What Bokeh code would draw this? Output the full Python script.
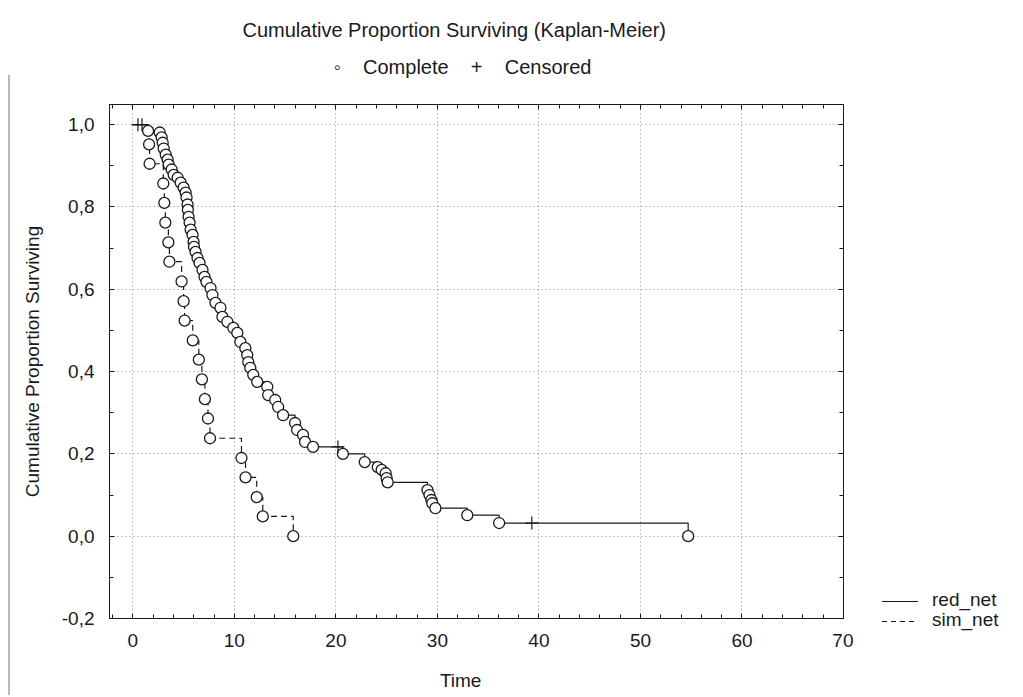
from bokeh.plotting import figure
from bokeh.layouts import row
from bokeh.models import (LinearAxis, Title, CustomJSTickFormatter, Div,
                          SingleIntervalTicker, Range1d)
from bokeh.embed import file_html
from bokeh.resources import INLINE

# ---- data ----
red_event_time = [1.5, 2.65, 2.84, 2.94, 3.04, 3.24, 3.43, 3.53, 3.82, 4.02, 4.41, 4.71, 5.00,
                  5.20, 5.29, 5.39, 5.42, 5.49, 5.59, 5.69, 5.88, 5.98, 6.02, 6.18, 6.37, 6.57,
                  6.86, 7.06, 7.25, 7.65, 7.84, 8.14, 8.63, 8.82, 9.31, 9.90, 10.29, 10.59,
                  11.08, 11.27, 11.37, 11.57, 11.86, 12.25, 13.24, 13.33, 14.02, 14.31, 14.80,
                  15.98, 16.18, 16.76, 16.96, 17.75, 20.69, 22.84, 24.12, 24.51, 24.90, 25.00,
                  25.10, 29.02, 29.22, 29.41, 29.50, 29.80, 32.94, 36.08, 54.7]
red_event_surv = [0.985, 0.981, 0.969, 0.956, 0.942, 0.927, 0.915, 0.903, 0.891, 0.878, 0.871,
                  0.859, 0.847, 0.835, 0.823, 0.806, 0.793, 0.776, 0.762, 0.745, 0.732, 0.715,
                  0.703, 0.691, 0.676, 0.664, 0.647, 0.630, 0.618, 0.603, 0.586, 0.567, 0.555,
                  0.533, 0.521, 0.506, 0.494, 0.472, 0.457, 0.440, 0.423, 0.409, 0.392, 0.375,
                  0.363, 0.343, 0.331, 0.314, 0.294, 0.275, 0.258, 0.246, 0.229, 0.217, 0.200,
                  0.180, 0.168, 0.161, 0.153, 0.141, 0.131, 0.112, 0.100, 0.088, 0.080, 0.068,
                  0.051, 0.032, 0.0]
red_censor_time = [0.5, 20.2, 39.3]
red_censor_surv = [1.0, 0.217, 0.032]

sim_event_time = [1.6, 1.65, 3.0, 3.1, 3.2, 3.5, 3.6, 4.8, 5.0, 5.1, 5.9, 6.5, 6.8, 7.1,
                  7.4, 7.6, 10.7, 11.1, 12.2, 12.8, 15.8]
sim_event_surv = [0.952, 0.905, 0.857, 0.810, 0.762, 0.714, 0.667, 0.619, 0.571, 0.524, 0.476,
                  0.429, 0.381, 0.333, 0.286, 0.238, 0.190, 0.143, 0.095, 0.048, 0.0]
sim_censor_time = [0.9]
sim_censor_surv = [1.0]

series_names = ["red_net", "sim_net"]

x_range = (-2.3, 70)
y_range = (-0.2, 1.049)

FONT = "Liberation Sans"
FS = "19px"
TFS = "20px"
INK = "#1a1a1a"
NB = "\u00a0"

H = 695
LEFT_W = 11
MAIN_W = 842
LEG_W = 167

# ---- thin grey border strip on the left (HTML) ----
left = Div(width=LEFT_W, height=H, margin=0,
           text=(f'<div style="position:relative;width:{LEFT_W}px;height:{H}px;">'
                 f'<div style="position:absolute;left:8px;top:75px;width:2px;height:{H - 75}px;'
                 f'background:#b8b8b8;"></div></div>'))

# ---- main plot ----
p = figure(width=MAIN_W, height=H, x_range=Range1d(*x_range), y_range=Range1d(*y_range),
           output_backend="svg", toolbar_location=None,
           min_border_left=98, min_border_right=10, min_border_top=104,
           min_border_bottom=H - 618,
           x_axis_label="Time" + NB * 6, y_axis_label="Cumulative Proportion Surviving")

p.outline_line_color = INK
p.outline_line_width = 1
p.background_fill_color = "white"
p.border_fill_color = "white"

xt = SingleIntervalTicker(interval=10, num_minor_ticks=5)
yt = SingleIntervalTicker(interval=0.2, num_minor_ticks=2)
yfmt = CustomJSTickFormatter(code="var t = Math.abs(tick) < 1e-9 ? 0 : tick; return t.toFixed(1).replace('.', ',');")

for ax in p.xaxis:
    ax.ticker = xt
for ax in p.yaxis:
    ax.ticker = yt
    ax.formatter = yfmt

def style_axis(ax):
    ax.axis_line_color = INK
    ax.major_tick_line_color = INK
    ax.minor_tick_line_color = INK
    ax.major_tick_in = 5
    ax.major_tick_out = 0
    ax.minor_tick_in = 4
    ax.minor_tick_out = 0
    ax.major_label_text_font = FONT
    ax.major_label_text_font_size = FS
    ax.major_label_text_color = INK
    ax.axis_label_text_font = FONT
    ax.axis_label_text_font_size = FS
    ax.axis_label_text_font_style = "normal"
    ax.axis_label_text_color = INK

for ax in list(p.xaxis) + list(p.yaxis):
    style_axis(ax)
p.xaxis.major_label_standoff = 15
p.xaxis.axis_label_standoff = 20
p.yaxis.major_label_standoff = 15
p.yaxis.axis_label_standoff = 16

blank = CustomJSTickFormatter(code="return '';")
top_ax = LinearAxis(ticker=xt, formatter=blank)
right_ax = LinearAxis(ticker=yt, formatter=blank)
for ax in (top_ax, right_ax):
    style_axis(ax)
    ax.major_label_standoff = 0
p.add_layout(top_ax, "above")
p.add_layout(right_ax, "right")

# invisible spacer between the frame and the sub-title
spacer_ax = LinearAxis(ticker=xt, formatter=blank, axis_line_color=None,
                       major_tick_line_color=None, minor_tick_line_color=None,
                       major_tick_in=0, major_tick_out=26, minor_tick_in=0, minor_tick_out=0,
                       major_label_standoff=0)
p.add_layout(spacer_ax, "above")

p.xgrid.grid_line_color = "#8a8a8a"
p.xgrid.grid_line_dash = "1 3"
p.ygrid.grid_line_color = "#8a8a8a"
p.ygrid.grid_line_dash = "1 3"

# titles (centred over the frame; trailing no-break spaces shift them slightly left)
sub_text = "\u25e6" + NB * 4 + "Complete" + NB * 4 + "+" + NB * 4 + "Censored" + NB * 5
sub = Title(text=sub_text, align="center", text_font=FONT,
            text_font_size=TFS, text_font_style="normal", text_color=INK, standoff=1)
p.add_layout(sub, "above")
p.title.text = "Cumulative Proportion Surviving (Kaplan-Meier)" + NB * 8
p.title.align = "center"
p.title.text_font = FONT
p.title.text_font_size = TFS
p.title.text_font_style = "normal"
p.title.text_color = INK
p.title.standoff = 26

# step curves
red_x = [0.0] + red_event_time
red_y = [1.0] + red_event_surv
sim_x = [0.0] + sim_event_time
sim_y = [1.0] + sim_event_surv

p.step(red_x, red_y, mode="after", line_color=INK, line_width=1.2)
p.step(sim_x, sim_y, mode="after", line_color=INK, line_width=1.2, line_dash="6 4")

p.scatter(sim_event_time, sim_event_surv, marker="circle", size=11, line_color=INK,
          line_width=1.3, fill_color="white")
p.scatter(red_event_time, red_event_surv, marker="circle", size=11, line_color=INK,
          line_width=1.3, fill_color="white")
p.scatter(red_censor_time, red_censor_surv, marker="cross", size=13, line_color=INK, line_width=1.2)
p.scatter(sim_censor_time, sim_censor_surv, marker="cross", size=13, line_color=INK, line_width=1.2)

# ---- legend on the right (HTML) ----
solid_css = f"border-top:1.2px solid {INK};height:0;"
dash_css = (f"height:1.2px;background:repeating-linear-gradient(to right,{INK} 0 5px,"
            f"transparent 5px 9px);")
rows_html = ""
for name, yy, css in zip(series_names, [601, 621], [solid_css, dash_css]):
    rows_html += (f'<div style="position:absolute;left:29px;top:{yy}px;width:36px;{css}"></div>'
                  f'<div style="position:absolute;left:79px;top:{yy - 11}px;font-family:\'{FONT}\';'
                  f'font-size:{FS};line-height:{FS};color:{INK};white-space:nowrap;">{name}</div>')
leg = Div(width=LEG_W, height=H, margin=0,
          text=f'<div style="position:relative;width:{LEG_W}px;height:{H}px;">{rows_html}</div>')

layout = row(left, p, leg, spacing=0)
open("out.html", "w").write(file_html(layout, INLINE))
